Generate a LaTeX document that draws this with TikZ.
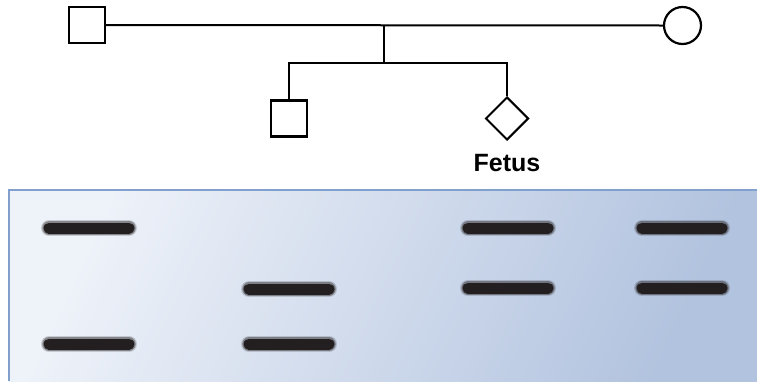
\documentclass[tikz,border=0pt]{standalone}
\usepackage{fontspec}
\newfontfamily\labelfont{Liberation Sans}
\definecolor{GelLight}{RGB}{238,242,249}
\definecolor{GelMid}{RGB}{203,214,232}
\definecolor{GelDark}{RGB}{178,195,223}
\definecolor{GelEdge}{RGB}{130,160,205}
\definecolor{BandInk}{RGB}{35,31,32}
\usetikzlibrary{positioning,shapes.geometric}
\tikzset{male/.style={draw,rectangle,minimum size=36pt,inner sep=0pt,line width=2.2pt}}
\tikzset{female/.style={draw,circle,minimum size=37pt,inner sep=0pt,line width=2.2pt}}
\tikzset{unknownsex/.style={draw,diamond,minimum size=43pt,inner sep=0pt,line width=2pt}}
\tikzset{kinline/.style={line width=2pt}}
\tikzset{gelband/.style={line width=11pt,line cap=round,BandInk}}

\begin{document}
\begin{tikzpicture}[x=1pt,y=-1pt]
        \useasboundingbox (0,0) rectangle (757,381);

        % gel background
        \path[shading=axis,top color=GelLight,middle color=GelMid,bottom color=GelDark,shading angle=65]
            (9,190) rectangle (757,381);
        \draw[GelEdge,line width=2pt] (9,381) -- (9,190) -- (757,190);

        % pedigree
        \node[male]       (father) at (87,25)    {};
        \node[female]     (mother) at (682.5,25.5) {};
        \node[male]       (son)    at (289,118.5) {};
        \node[unknownsex] (fetus)  at (507,118.5) {};
        \node[below=13pt of fetus,inner sep=0pt,font=\labelfont\bfseries\fontsize{25}{28}\selectfont] (fetuslabel) {Fetus};

        \coordinate (couple) at (384,25);
        \coordinate (sibship) at (384,63);
        \draw[kinline] (father.east) -- (mother.west);
        \draw[kinline] (couple) -- (sibship);
        \draw[kinline] (son.north) |- (sibship) -| (fetus.north);

        % bands
        \foreach \x/\y in {
            89/228, 89/344,
            289/289, 289/344,
            508/228, 508/288,
            682/228, 682/288
        } {
            \draw[gelband,line width=16pt,opacity=0.18] (\x-40,\y) -- (\x+40,\y);
            \draw[gelband,line width=13.5pt,opacity=0.4] (\x-40,\y) -- (\x+40,\y);
            \draw[gelband] (\x-40,\y) -- (\x+40,\y);
        }
    \end{tikzpicture}
\end{document}
